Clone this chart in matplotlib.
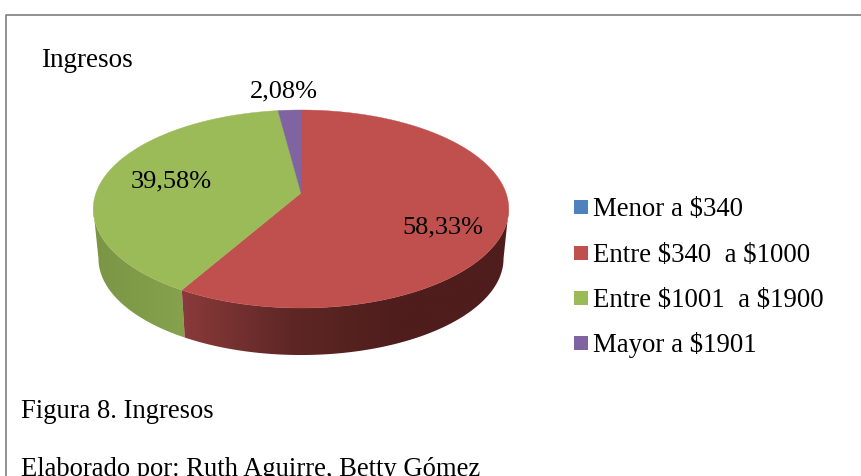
import numpy as np
import matplotlib
matplotlib.use("Agg")
import matplotlib.pyplot as plt
from matplotlib.colors import LinearSegmentedColormap
from matplotlib.patches import Polygon, Rectangle

plt.rcParams['font.family'] = ['Liberation Serif', 'DejaVu Serif']
plt.rcParams['text.parse_math'] = False

categories = ["Menor a $340", "Entre $340  a $1000", "Entre $1001  a $1900", "Mayor a $1901"]
values = [0.0, 58.33, 39.58, 2.08]
value_labels = ["2,08%", "39,58%", "58,33%"]
colors = ["#4f81bd", "#c0504d", "#9bbb59", "#8064a2"]

W, H = 862, 476
CX, CY = 301, 209       # centre of the top ellipse
A, B = 205, 99          # radii before the perspective
K = 16 / 99             # perspective strength, moves the pie centre up
DEPTH_Y = 49.5
DEPTH_SCALE = 0.975


def project(theta, scale=1.0, dy=0.0):
    # theta is clockwise from 12 o'clock
    u, v = np.sin(theta), np.cos(theta)
    den = 1 + K * v
    x = CX + scale * A * u / den
    y = CY + dy - scale * (B * v + K * B) / den
    return np.column_stack([x, y])


fig = plt.figure(figsize=(W / 100, H / 100), dpi=100)
ax = fig.add_axes([0, 0, 1, 1])
ax.set_xlim(0, W)
ax.set_ylim(H, 0)
ax.axis("off")

# cumulative angles from the values
fracs = np.array(values) / sum(values)
edges = np.concatenate([[0], np.cumsum(fracs)]) * 2 * np.pi

# wall, only the front half is visible
right = np.arccos(-K)
left = 2 * np.pi - right


def wall(t0, t1, cmap_colors):
    th = np.linspace(t0, t1, 200)
    top = project(th)
    bot = project(th, DEPTH_SCALE, DEPTH_Y)
    pts = np.vstack([top, bot[::-1]])
    poly = Polygon(pts, closed=True, fc="none", ec="none")
    ax.add_patch(poly)
    x0, x1 = pts[:, 0].min(), pts[:, 0].max()
    y0, y1 = pts[:, 1].min(), pts[:, 1].max()
    cmap = LinearSegmentedColormap.from_list("w", cmap_colors)
    # colours run left to right
    im = ax.imshow(np.linspace(0, 1, 256).reshape(1, -1), cmap=cmap,
                   extent=[x0, x1, y1, y0], aspect="auto", zorder=1)
    im.set_clip_path(poly)


wall(edges[2], left, ["#7a9645", "#86a24d"])
wall(right, edges[2], ["#8a3a3a", "#5e2725", "#4e1d1c", "#4e1d1c"])

ax.set_xlim(0, W)
ax.set_ylim(H, 0)

# top face
apex = np.array([[CX, CY - K * B]])
for i, c in enumerate(colors):
    if fracs[i] == 0:
        continue
    th = np.linspace(edges[i], edges[i + 1], 200)
    ax.add_patch(Polygon(np.vstack([apex, project(th)]), closed=True,
                         fc=c, ec=c, lw=0.3, zorder=2))

# frame
ax.plot([6.5, 6.5, W], [H, 14.5, 14.5], color="#7f7f7f", lw=1.2, zorder=3)

# labels
label_pos = [(284, 97), (171, 187), (443, 233)]
for s, (x, y) in zip(value_labels, label_pos):
    ax.text(x, y, s, fontsize=19, ha="center", va="baseline", color="black", zorder=4)

ax.text(41, 67, "Ingresos", fontsize=19.5, ha="left", va="baseline", color="black")

# legend
legend_y = [207, 253, 298, 343]
legend_base = [216, 262, 307, 352]
for name, c, y, b in zip(categories, colors, legend_y, legend_base):
    ax.add_patch(Rectangle((574, y - 7), 14, 14, fc=c, ec="none"))
    ax.text(593, b, name, fontsize=19.25, ha="left", va="baseline", color="black")

ax.text(21, 418, "Figura 8. Ingresos", fontsize=19.2, ha="left", va="baseline", color="black")
ax.text(21, 476, "Elaborado por: Ruth Aguirre, Betty Gómez", fontsize=19.2, ha="left",
        va="baseline", color="black")

fig.savefig("out.png", dpi=100)
